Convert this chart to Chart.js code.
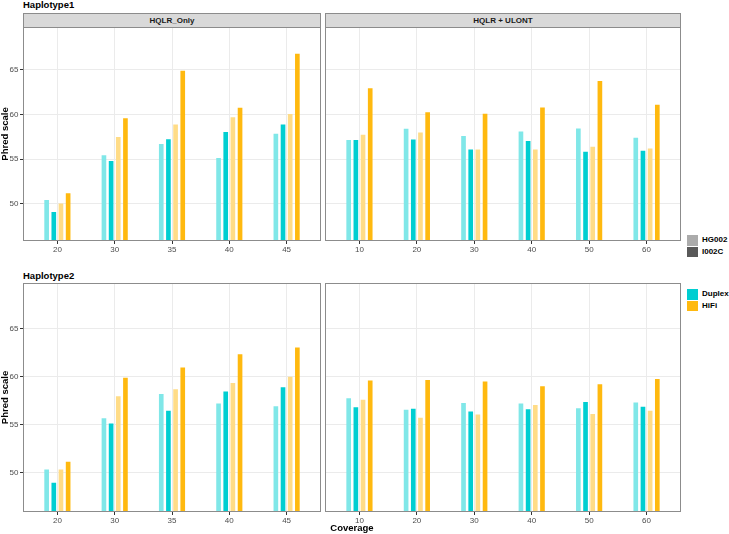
<!DOCTYPE html>
<html>
<head>
<meta charset="utf-8">
<script src="https://cdn.jsdelivr.net/npm/chart.js@4"></script>
<style>
  body { margin: 0; background: #fff; font-family: "Liberation Sans", Arial, sans-serif; }
  #wrap { position: relative; width: 729px; height: 534px; overflow: hidden; }
  canvas { position: absolute; }
  .txt { position: absolute; white-space: nowrap; color: #000; }
  .strip { position: absolute; background: #d9d9d9; border: 1px solid #8c8c8c; box-sizing: border-box;
           display: flex; align-items: center; justify-content: center; font-size: 8px; font-weight: bold; color: #1a1a1a; }
  .key { position: absolute; width: 11px; height: 10.5px; }
  .lab { position: absolute; font-size: 8px; font-weight: bold; line-height: 8px; color: #000; }
</style>
</head>
<body>
<div id="wrap">
  <div class="txt" style="left:23px;top:0px;font-size:9.5px;line-height:9.5px;font-weight:bold;">Haplotype1</div>
  <div class="txt" style="left:23px;top:270.5px;font-size:9.5px;line-height:9.5px;font-weight:bold;">Haplotype2</div>

  <div class="strip" style="left:23px;top:12.5px;width:298px;height:15px;">HQLR_Only</div>
  <div class="strip" style="left:325px;top:12.5px;width:356px;height:15px;">HQLR + ULONT</div>

  <canvas id="h1only" width="321" height="229" style="left:0px;top:27px;"></canvas>
  <canvas id="h1ulont" width="356" height="229" style="left:325px;top:27px;"></canvas>
  <canvas id="h2only" width="321" height="244" style="left:0px;top:283px;"></canvas>
  <canvas id="h2ulont" width="356" height="244" style="left:325px;top:283px;"></canvas>

  <div class="txt" style="left:0;width:704px;text-align:center;top:523px;font-size:9.5px;line-height:9.5px;font-weight:bold;">Coverage</div>

  <div class="key" style="left:687px;top:235px;background:#ababab;"></div>
  <div class="key" style="left:687px;top:246.5px;background:#595959;"></div>
  <div class="lab" style="left:702px;top:236px;">HG002</div>
  <div class="lab" style="left:702px;top:248px;">I002C</div>

  <div class="key" style="left:687px;top:289px;background:#00ced1;"></div>
  <div class="key" style="left:687px;top:300.5px;background:#ffb90f;"></div>
  <div class="lab" style="left:702px;top:290px;">Duplex</div>
  <div class="lab" style="left:702px;top:302px;">HiFi</div>
</div>

<script>
// coverage categories
const covOnly = ['20', '30', '35', '40', '45'];
const covUlont = ['10', '20', '30', '40', '50', '60'];
const yTicks = [50, 55, 60, 65];

// Haplotype1, HQLR_Only
const h1OnlyDuplexHG002 = [50.45, 55.45, 56.7, 55.15, 57.85];
const h1OnlyDuplexI002C = [49.1, 54.8, 57.25, 58.05, 58.9];
const h1OnlyHiFiHG002 = [50.05, 57.5, 58.9, 59.7, 60.05];
const h1OnlyHiFiI002C = [51.2, 59.6, 64.9, 60.75, 66.8];

// Haplotype1, HQLR + ULONT
const h1UlontDuplexHG002 = [57.15, 58.4, 57.6, 58.1, 58.45, 57.4];
const h1UlontDuplexI002C = [57.15, 57.2, 56.1, 57.05, 55.85, 55.95];
const h1UlontHiFiHG002 = [57.75, 58.0, 56.1, 56.1, 56.4, 56.2];
const h1UlontHiFiI002C = [62.95, 60.25, 60.1, 60.8, 63.75, 61.1];

// Haplotype2, HQLR_Only
const h2OnlyDuplexHG002 = [50.3, 55.65, 58.2, 57.2, 56.9];
const h2OnlyDuplexI002C = [48.9, 55.1, 56.45, 58.45, 58.9];
const h2OnlyHiFiHG002 = [50.3, 57.95, 58.7, 59.35, 60.0];
const h2OnlyHiFiI002C = [51.1, 59.9, 60.95, 62.35, 63.05];

// Haplotype2, HQLR + ULONT
const h2UlontDuplexHG002 = [57.75, 56.55, 57.25, 57.2, 56.7, 57.3];
const h2UlontDuplexI002C = [56.8, 56.65, 56.35, 56.6, 57.35, 56.85];
const h2UlontHiFiHG002 = [57.6, 55.7, 56.05, 57.05, 56.1, 56.45];
const h2UlontHiFiI002C = [59.6, 59.65, 59.5, 59.0, 59.2, 59.75];

const seriesNames = ['Duplex HG002', 'Duplex I002C', 'HiFi HG002', 'HiFi I002C'];
const seriesColors = ['#80e7e8', '#00ced1', '#ffdc87', '#ffb90f'];

Chart.defaults.font.family = '"Liberation Sans", Arial, sans-serif';

// panel frame like ggplot theme_bw
const panelBorder = {
    id: 'panelBorder',
    afterDraw(chart) {
        const a = chart.chartArea;
        const c = chart.ctx;
        c.save();
        c.strokeStyle = '#8c8c8c';
        c.lineWidth = 1;
        c.strokeRect(a.left + 0.5, a.top + 0.5, a.right - a.left - 1, a.bottom - a.top - 1);
        c.restore();
    }
};

function makePanel(id, cats, series, showY) {
    const ctx = document.getElementById(id);
    return new Chart(ctx, {
        type: 'bar',
        data: {
            datasets: series.map((vals, k) => ({
                label: seriesNames[k],
                data: vals.map((v, i) => ({ x: i, y: v })),
                backgroundColor: seriesColors[k],
                categoryPercentage: 0.5,
                barPercentage: 0.65
            }))
        },
        options: {
            responsive: false,
            animation: false,
            layout: { padding: 0 },
            plugins: { legend: { display: false }, tooltip: { enabled: false } },
            scales: {
                x: {
                    type: 'linear',
                    min: -0.6,
                    max: cats.length - 0.4,
                    offset: false,
                    grid: { color: '#ebebeb', offset: false, tickLength: 3, tickColor: '#333' },
                    border: { display: false },
                    ticks: {
                        font: { size: 8 }, color: '#4d4d4d', padding: 1,
                        maxRotation: 0, autoSkip: false,
                        callback: v => cats[v]
                    },
                    afterBuildTicks: s => { s.ticks = cats.map((c, i) => ({ value: i })); },
                    afterFit: s => { s.height = 15; s.paddingLeft = 0; s.paddingRight = 0; }
                },
                y: {
                    min: 45.85,
                    max: 69.8,
                    grid: { color: '#ebebeb', tickLength: 3, tickColor: '#333', drawTicks: showY },
                    border: { display: false },
                    title: {
                        display: showY, text: 'Phred scale', color: '#000',
                        font: { size: 9.5, weight: 'bold' }, padding: 0
                    },
                    ticks: { display: showY, font: { size: 8 }, color: '#4d4d4d', padding: 1.5 },
                    afterBuildTicks: s => { s.ticks = yTicks.map(v => ({ value: v })); },
                    afterFit: s => { s.width = showY ? 23 : 0; s.paddingTop = 0; s.paddingBottom = 0; }
                }
            }
        },
        plugins: [panelBorder]
    });
}

makePanel('h1only', covOnly, [h1OnlyDuplexHG002, h1OnlyDuplexI002C, h1OnlyHiFiHG002, h1OnlyHiFiI002C], true);
makePanel('h1ulont', covUlont, [h1UlontDuplexHG002, h1UlontDuplexI002C, h1UlontHiFiHG002, h1UlontHiFiI002C], false);
makePanel('h2only', covOnly, [h2OnlyDuplexHG002, h2OnlyDuplexI002C, h2OnlyHiFiHG002, h2OnlyHiFiI002C], true);
makePanel('h2ulont', covUlont, [h2UlontDuplexHG002, h2UlontDuplexI002C, h2UlontHiFiHG002, h2UlontHiFiI002C], false);
</script>
</body>
</html>
